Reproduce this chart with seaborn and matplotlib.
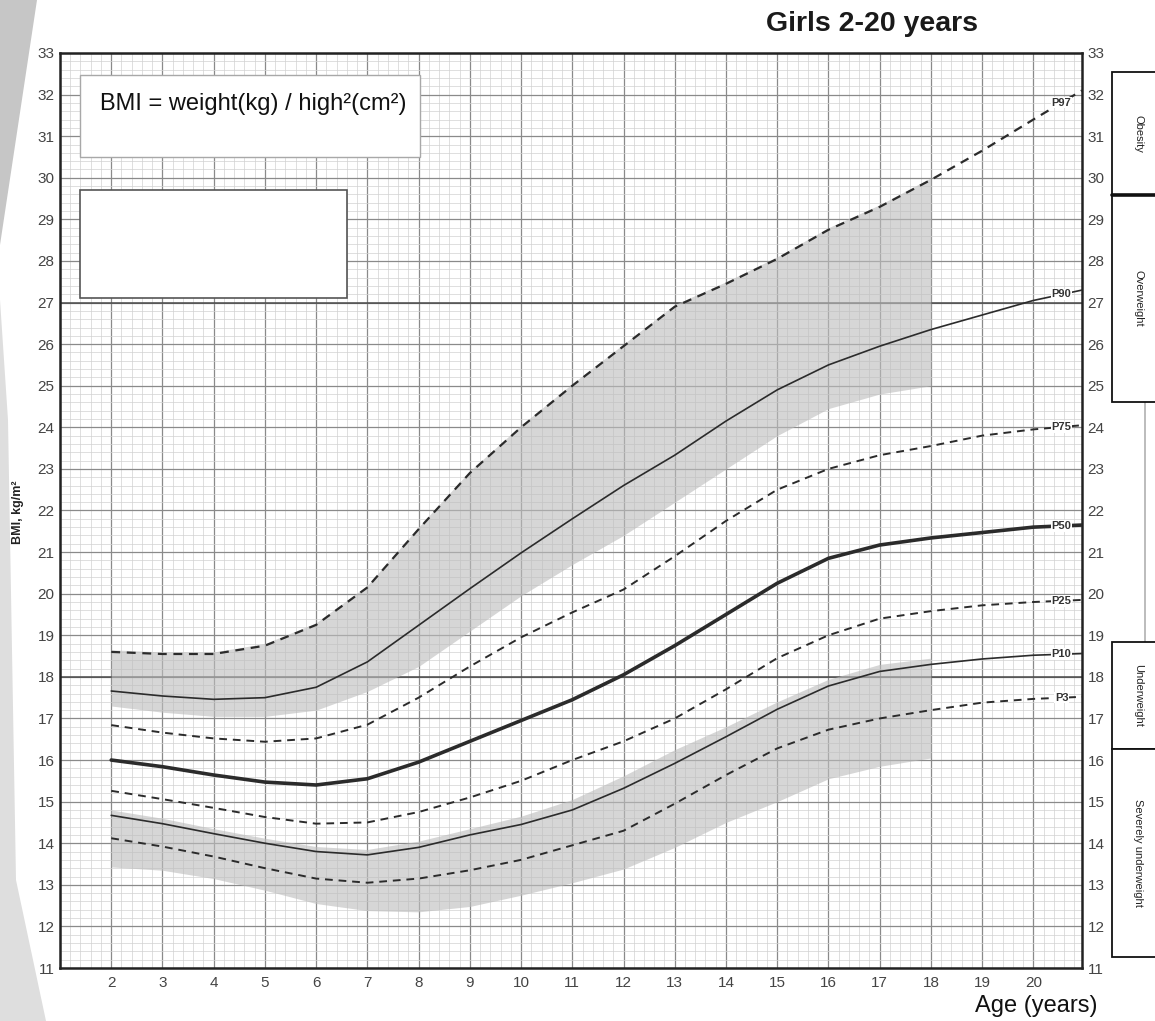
import numpy as np
import pandas as pd
import matplotlib
matplotlib.use("Agg")
import matplotlib.pyplot as plt
import seaborn as sns
from matplotlib.patches import Rectangle, Polygon

# ---------------- data ----------------
age = [2, 3, 4, 5, 6, 7, 8, 9, 10, 11, 12, 13, 14, 15, 16, 17, 18, 19, 20, 20.95]
p97 = [18.6, 18.55, 18.55, 18.75, 19.25, 20.15, 21.55, 22.9, 24.0, 25.0, 25.95, 26.9, 27.45, 28.05, 28.75, 29.3, 29.95, 30.65, 31.4, 32.1]
p90 = [17.66, 17.54, 17.46, 17.5, 17.75, 18.36, 19.24, 20.12, 20.98, 21.8, 22.6, 23.33, 24.15, 24.9, 25.5, 25.95, 26.35, 26.7, 27.05, 27.3]
p75 = [16.84, 16.66, 16.52, 16.44, 16.52, 16.85, 17.5, 18.25, 18.95, 19.55, 20.1, 20.9, 21.75, 22.5, 23.0, 23.33, 23.55, 23.8, 23.95, 24.05]
p50 = [16.0, 15.84, 15.64, 15.47, 15.4, 15.55, 15.95, 16.45, 16.95, 17.45, 18.05, 18.75, 19.5, 20.25, 20.85, 21.17, 21.34, 21.47, 21.6, 21.65]
p25 = [15.26, 15.06, 14.85, 14.63, 14.47, 14.5, 14.75, 15.1, 15.5, 16.0, 16.45, 17.0, 17.7, 18.45, 19.0, 19.4, 19.58, 19.72, 19.8, 19.85]
p10 = [14.67, 14.47, 14.23, 14.0, 13.8, 13.72, 13.9, 14.2, 14.45, 14.8, 15.32, 15.92, 16.56, 17.22, 17.78, 18.13, 18.3, 18.43, 18.52, 18.56]
p3 = [14.12, 13.92, 13.68, 13.4, 13.15, 13.05, 13.15, 13.35, 13.6, 13.95, 14.3, 14.95, 15.64, 16.28, 16.73, 17.0, 17.2, 17.38, 17.47, 17.52]

band_age = [2, 3, 4, 5, 6, 7, 8, 9, 10, 11, 12, 13, 14, 15, 16, 17, 18]
upper_band_low = [17.3, 17.15, 17.05, 17.05, 17.2, 17.65, 18.25, 19.1, 19.95, 20.7, 21.4, 22.2, 23.0, 23.8, 24.45, 24.8, 25.0]
upper_band_high = [18.65, 18.6, 18.6, 18.8, 19.3, 20.2, 21.6, 22.95, 24.05, 25.05, 26.0, 26.95, 27.5, 28.1, 28.8, 29.35, 30.0]
lower_band_high = [14.8, 14.6, 14.35, 14.12, 13.92, 13.85, 14.05, 14.35, 14.65, 15.05, 15.62, 16.25, 16.8, 17.4, 17.94, 18.3, 18.45]
lower_band_low = [13.43, 13.35, 13.15, 12.87, 12.55, 12.38, 12.35, 12.48, 12.75, 13.05, 13.38, 13.9, 14.5, 15.0, 15.55, 15.85, 16.05]

percentile_names = ["P97", "P90", "P75", "P50", "P25", "P10", "P3"]
x_tick_labels = [str(a) for a in range(2, 21)]
y_ticks = list(range(11, 34))
category_labels = ["Obesity", "Overweight", "Underweight", "Severely underweight"]

# ---------------- styling ----------------
sns.set_style("white")
plt.rcParams['font.family'] = ['Liberation Sans', 'DejaVu Sans']

W, H = 1155, 1021
fig = plt.figure(figsize=(W / 100, H / 100), dpi=100)


def fx(px):
    return px / W


def fy(py):
    return 1 - py / H


# left decorative wedges (behind everything)
fig.patches.append(Polygon([(fx(0), fy(0)), (fx(37), fy(0)), (fx(0), fy(245))],
                           closed=True, transform=fig.transFigure, fc='#c6c6c6', ec='none', zorder=-5))
fig.patches.append(Polygon([(fx(0), fy(300)), (fx(8), fy(420)), (fx(16), fy(880)), (fx(46), fy(1021)), (fx(0), fy(1021))],
                           closed=True, transform=fig.transFigure, fc='#dedede', ec='none', zorder=-5))

ax = fig.add_axes([fx(60), fy(968), fx(1082) - fx(60), fy(53) - fy(968)])
ax.set_zorder(1)
ax.set_xlim(1, 20.95)
ax.set_ylim(11, 33)

# grid
ax.set_xticks(range(1, 21))
ax.set_xticklabels([''] + x_tick_labels)
ax.set_xticks(np.arange(1, 21, 0.2), minor=True)
ax.set_yticks(y_ticks)
ax.set_yticks(np.arange(11, 33, 0.2), minor=True)
ax.set_axisbelow(True)
ax.grid(which='minor', color='#d2d2d2', lw=0.5)
ax.grid(which='major', color='#8a8a8a', lw=0.9)
for yy in (18, 27):
    ax.axhline(yy, color='#4a4a4a', lw=1.1, zorder=0.8)

ax.tick_params(which='both', length=0)
ax.tick_params(axis='y', labelsize=11, labelcolor='#444444', pad=4,
               right=True, labelright=True)
ax.tick_params(axis='x', labelsize=11, labelcolor='#444444', pad=6)
for side in ['left', 'right', 'top', 'bottom']:
    ax.spines[side].set_color('#222222')
    ax.spines[side].set_linewidth(1.8)

# shaded bands
ax.fill_between(band_age, upper_band_low, upper_band_high, color='#bdbdbd', alpha=0.62, lw=0, zorder=1.5)
ax.fill_between(band_age, lower_band_low, lower_band_high, color='#bdbdbd', alpha=0.62, lw=0, zorder=1.5)

# percentile curves
curves = [p97, p90, p75, p50, p25, p10, p3]
styles = [
    dict(lw=1.6, linestyle=(0, (4, 3))),
    dict(lw=1.2, linestyle='-'),
    dict(lw=1.4, linestyle=(0, (4, 3))),
    dict(lw=2.6, linestyle='-'),
    dict(lw=1.4, linestyle=(0, (4, 3))),
    dict(lw=1.2, linestyle='-'),
    dict(lw=1.4, linestyle=(0, (4, 3))),
]
for name, vals, st in zip(percentile_names, curves, styles):
    df = pd.DataFrame({"age": age, "bmi": vals})
    sns.lineplot(data=df, x="age", y="bmi", ax=ax, color='#2b2b2b', zorder=3,
                 sort=True, estimator=None, **st)
    ylab = np.interp(20.55, age, vals)
    ax.text(20.55, ylab, name, ha='center', va='center', fontsize=8, fontweight='bold',
            color='#333333', zorder=4,
            bbox=dict(fc='white', ec='none', pad=0.6))

ax.set_xlabel('')
ax.set_ylabel('')

# boxes in the upper left
ax.add_patch(Rectangle((fx(80), fy(157)), fx(420) - fx(80), fy(75) - fy(157), transform=fig.transFigure,
                       fc='white', ec='#a8a8a8', lw=1.0, zorder=6, clip_on=False))
ax.add_patch(Rectangle((fx(80), fy(298)), fx(347) - fx(80), fy(190) - fy(298), transform=fig.transFigure,
                       fc='white', ec='#555555', lw=1.2, zorder=6, clip_on=False))
fig.text(fx(100), fy(110), 'BMI = weight(kg) / high²(cm²)', fontsize=17, color='#111111',
         ha='left', va='baseline', zorder=7)

# right category boxes
boxes = [(72, 195), (195, 402), (642, 749), (749, 957)]
for (top, bot), lab in zip(boxes, category_labels):
    fig.patches.append(Rectangle((fx(1112), fy(bot)), fx(1175) - fx(1112), fy(top) - fy(bot),
                                 transform=fig.transFigure, fc='white', ec='#111111', lw=1.3, zorder=2))
    fig.text(fx(1138), fy((top + bot) / 2), lab, rotation=270, ha='center', va='center',
             fontsize=8, color='#222222', zorder=3)
fig.lines.append(plt.Line2D([fx(1112), fx(1155)], [fy(195), fy(195)], transform=fig.transFigure,
                            color='#111111', lw=2.6, zorder=4))
fig.lines.append(plt.Line2D([fx(1145), fx(1145)], [fy(402), fy(642)], transform=fig.transFigure,
                            color='#b0b0b0', lw=1.2, zorder=2))

# titles and axis labels
fig.text(fx(872), fy(24), 'Girls 2-20 years', fontsize=20.5, fontweight='bold', color='#1a1a1a',
         ha='center', va='center')
fig.text(fx(1036), fy(1006), 'Age (years)', fontsize=17, color='#111111', ha='center', va='center')
fig.text(fx(18), fy(512), 'BMI, kg/m²', rotation=90, fontsize=9, fontweight='bold', color='#222222',
         ha='center', va='center')

fig.savefig('out.png', dpi=100)
